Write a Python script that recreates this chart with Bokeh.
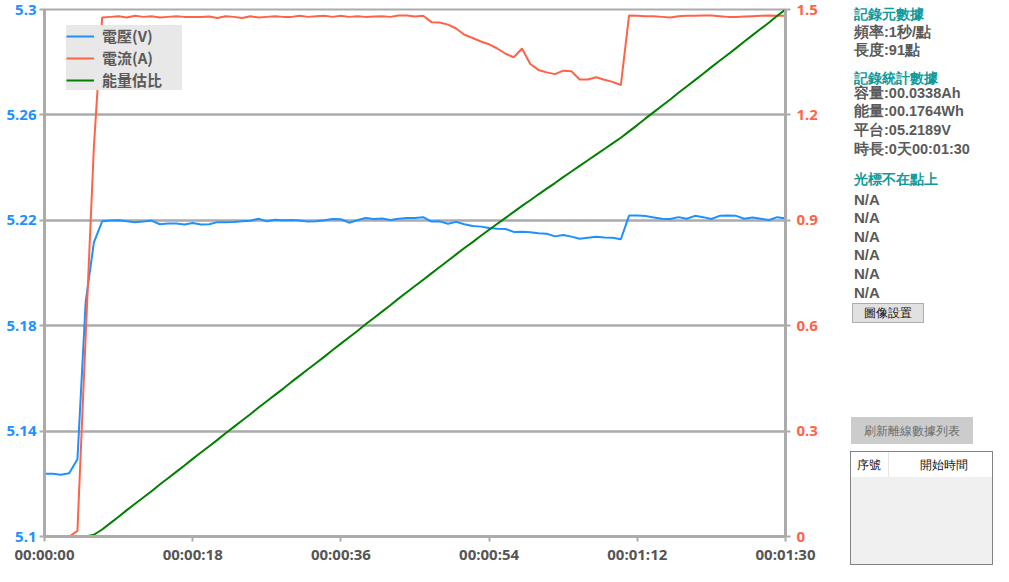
from bokeh.plotting import figure
from bokeh.models import Range1d, LinearAxis, FixedTicker, Legend, LegendItem, Div
from bokeh.layouts import row
from bokeh.embed import file_html
from bokeh.resources import INLINE

# ---------------- data ----------------
seconds = list(range(91))
voltage = [
    5.1238, 5.1238, 5.1234, 5.1240, 5.1293, 5.1890, 5.2116, 5.2196, 5.2199, 5.2200,
    5.2196, 5.2193, 5.2195, 5.2199, 5.2185, 5.2188, 5.2188, 5.2184, 5.2190, 5.2184,
    5.2185, 5.2193, 5.2193, 5.2194, 5.2196, 5.2198, 5.2206, 5.2196, 5.2202, 5.2200,
    5.2201, 5.2199, 5.2195, 5.2196, 5.2200, 5.2205, 5.2204, 5.2191, 5.2200, 5.2209,
    5.2205, 5.2207, 5.2201, 5.2206, 5.2209, 5.2209, 5.2212, 5.2195, 5.2196, 5.2187,
    5.2194, 5.2185, 5.2178, 5.2176, 5.2171, 5.2168, 5.2167, 5.2156, 5.2157, 5.2155,
    5.2151, 5.2149, 5.2139, 5.2144, 5.2138, 5.2130, 5.2134, 5.2138, 5.2135, 5.2134,
    5.2128, 5.2218, 5.2218, 5.2216, 5.2211, 5.2206, 5.2205, 5.2212, 5.2206, 5.2217,
    5.2212, 5.2205, 5.2217, 5.2218, 5.2217, 5.2206, 5.2211, 5.2206, 5.2201, 5.2212,
    5.2207,
]
current = [
    0, 0, 0, 0, 0.016, 0.57, 1.11, 1.477, 1.479, 1.481,
    1.477, 1.482, 1.479, 1.481, 1.477, 1.479, 1.481, 1.479, 1.479, 1.479,
    1.480, 1.476, 1.481, 1.479, 1.476, 1.481, 1.477, 1.479, 1.481, 1.479,
    1.479, 1.482, 1.479, 1.481, 1.482, 1.479, 1.482, 1.479, 1.481, 1.479,
    1.480, 1.481, 1.479, 1.483, 1.483, 1.480, 1.482, 1.464, 1.463, 1.457,
    1.446, 1.428, 1.419, 1.409, 1.401, 1.389, 1.374, 1.364, 1.389, 1.345,
    1.328, 1.321, 1.316, 1.326, 1.324, 1.301, 1.301, 1.307, 1.300, 1.294,
    1.285, 1.483, 1.482, 1.481, 1.481, 1.479, 1.477, 1.481, 1.482, 1.482,
    1.483, 1.483, 1.481, 1.479, 1.479, 1.480, 1.481, 1.482, 1.483, 1.482,
    1.482,
]
energy_ratio = [
    0, 0, 0, 0, 0, 0, 0.005, 0.020, 0.038, 0.056,
    0.075, 0.093, 0.111, 0.129, 0.148, 0.166, 0.184, 0.202, 0.221, 0.239,
    0.257, 0.275, 0.294, 0.312, 0.330, 0.348, 0.367, 0.385, 0.403, 0.421,
    0.440, 0.458, 0.476, 0.494, 0.512, 0.531, 0.549, 0.567, 0.585, 0.604,
    0.622, 0.640, 0.658, 0.677, 0.695, 0.713, 0.731, 0.749, 0.767, 0.785,
    0.803, 0.821, 0.838, 0.856, 0.873, 0.890, 0.907, 0.924, 0.941, 0.957,
    0.974, 0.990, 1.006, 1.023, 1.039, 1.055, 1.071, 1.087, 1.103, 1.119,
    1.135, 1.153, 1.171, 1.190, 1.208, 1.226, 1.244, 1.263, 1.281, 1.299,
    1.317, 1.336, 1.354, 1.372, 1.390, 1.409, 1.427, 1.445, 1.463, 1.482,
    1.500,
]
series_names = ["電壓(V)", "電流(A)", "能量估比"]
x_ticks = [0, 18, 36, 54, 72, 90]
x_tick_labels = ["00:00:00", "00:00:18", "00:00:36", "00:00:54", "00:01:12", "00:01:30"]
v_ticks = [5.1, 5.14, 5.18, 5.22, 5.26, 5.3]
v_tick_labels = ["5.1", "5.14", "5.18", "5.22", "5.26", "5.3"]
a_ticks = [0, 0.3, 0.6, 0.9, 1.2, 1.5]
a_tick_labels = ["0", "0.3", "0.6", "0.9", "1.2", "1.5"]

meta_title = "記錄元數據"
meta_lines = ["頻率:1秒/點", "長度:91點"]
stats_title = "記錄統計數據"
stats_lines = ["容量:00.0338Ah", "能量:00.1764Wh", "平台:05.2189V", "時長:0天00:01:30"]
cursor_title = "光標不在點上"
cursor_lines = ["N/A", "N/A", "N/A", "N/A", "N/A", "N/A"]
button_image = "圖像設置"
button_refresh = "刷新離線數據列表"
table_headers = ["序號", "開始時間"]

# ---------------- styles ----------------
BLUE = "#1E90FF"
RED = "#FF6347"
GREEN = "#008000"
GRID = "#ababab"
TEAL = "#109a9a"
GRAYTXT = "#5a5a5a"
CJK = "Noto Sans CJK TC"

W_MAIN, W_SIDE, H = 846, 147, 566

p = figure(width=W_MAIN, height=H, x_range=Range1d(0, 90), y_range=Range1d(5.1, 5.3),
           output_backend="svg", toolbar_location=None,
           min_border_left=44, min_border_right=61, min_border_top=9, min_border_bottom=20)
p.extra_y_ranges = {"cur": Range1d(0, 1.5)}
p.background_fill_color = "white"
p.border_fill_color = "white"
p.outline_line_color = GRID
p.outline_line_width = 2

p.xgrid.visible = False
p.ygrid.ticker = FixedTicker(ticks=v_ticks)
p.ygrid.grid_line_color = GRID
p.ygrid.grid_line_width = 2.5

right_axis = LinearAxis(y_range_name="cur")
p.add_layout(right_axis, "right")

xa = p.xaxis[0]
ya = p.yaxis[0]
xa.ticker = FixedTicker(ticks=x_ticks)
xa.major_label_overrides = {t: s for t, s in zip(x_ticks, x_tick_labels)}
ya.ticker = FixedTicker(ticks=v_ticks)
ya.major_label_overrides = {t: s for t, s in zip(v_ticks, v_tick_labels)}
right_axis.ticker = FixedTicker(ticks=a_ticks)
right_axis.major_label_overrides = {t: s for t, s in zip(a_ticks, a_tick_labels)}

for ax, col in [(xa, "#555555"), (ya, BLUE), (right_axis, RED)]:
    ax.axis_line_color = GRID
    ax.axis_line_width = 3
    ax.major_tick_line_color = GRID
    ax.major_tick_line_width = 2
    ax.major_tick_out = 5
    ax.major_tick_in = 0
    ax.minor_tick_line_color = None
    ax.major_label_text_font = "Open Sans"
    ax.major_label_text_font_style = "bold"
    ax.major_label_text_font_size = "15px"
    ax.major_label_text_color = col
    ax.major_label_standoff = 3
xa.major_label_standoff = 2
right_axis.major_label_standoff = 6

r_v = p.line(seconds, voltage, line_color=BLUE, line_width=2)
r_a = p.line(seconds, current, line_color=RED, line_width=2, y_range_name="cur")
r_e = p.line(seconds, energy_ratio, line_color=GREEN, line_width=2, y_range_name="cur")

legend = Legend(items=[LegendItem(label=series_names[0], renderers=[r_v]),
                       LegendItem(label=series_names[1], renderers=[r_a]),
                       LegendItem(label=series_names[2], renderers=[r_e])],
                location=(22, 446))
legend.background_fill_color = "#e8e8e8"
legend.background_fill_alpha = 1
legend.border_line_color = None
legend.padding = 16
legend.spacing = 1
legend.margin = 0
legend.glyph_width = 28
legend.glyph_height = 18
legend.label_height = 18
legend.label_width = 80
legend.label_standoff = 8
legend.label_text_font = CJK
legend.label_text_font_style = "bold"
legend.label_text_font_size = "15px"
legend.label_text_color = GRAYTXT
p.add_layout(legend)

# ---------------- side panel (inline SVG inside a Div) ----------------
def svg_text(text, x, yc, color, size, weight="bold", anchor="start"):
    return ('<text x="%s" y="%s" dominant-baseline="central" text-anchor="%s" fill="%s" '
            'font-family="%s" font-size="%s" font-weight="%s">%s</text>'
            % (x, yc, anchor, color, CJK, size, weight, text))

parts = []
parts.append(svg_text(meta_title, 8, 14, TEAL, "14px"))
for t, yc in zip(meta_lines, [32, 50]):
    parts.append(svg_text(t, 8, yc, GRAYTXT, "14.5px"))
parts.append(svg_text(stats_title, 8, 78, TEAL, "14px"))
for t, yc in zip(stats_lines, [93, 111, 130, 149]):
    parts.append(svg_text(t, 8, yc, GRAYTXT, "14.5px"))
parts.append(svg_text(cursor_title, 8, 179, TEAL, "14px"))
for t, yc in zip(cursor_lines, [199, 217, 236, 254, 273, 292]):
    parts.append(svg_text(t, 8, yc, GRAYTXT, "15px"))
# button: image settings
parts.append('<rect x="6.5" y="303.5" width="71" height="19" fill="#e1e1e1" stroke="#adadad" stroke-width="1"/>')
parts.append(svg_text(button_image, 42, 313, "#111111", "12px", weight="normal", anchor="middle"))
# button: refresh list
parts.append('<rect x="5" y="417" width="122" height="27" fill="#cccccc"/>')
parts.append(svg_text(button_refresh, 66, 430.5, "#6d6d6d", "12px", weight="normal", anchor="middle"))
# table
parts.append('<rect x="4.5" y="451.5" width="142" height="113" fill="#f0f0f0" stroke="#828282" stroke-width="1"/>')
parts.append('<rect x="5" y="452" width="141" height="25" fill="#ffffff"/>')
parts.append('<line x1="42.5" y1="452" x2="42.5" y2="477" stroke="#e5e5e5" stroke-width="1"/>')
parts.append(svg_text(table_headers[0], 11, 465, "#111111", "12px", weight="normal"))
parts.append(svg_text(table_headers[1], 98, 465, "#111111", "12px", weight="normal", anchor="middle"))

html = ('<svg xmlns="http://www.w3.org/2000/svg" width="%d" height="%d" style="display:block">%s</svg>'
        % (W_SIDE, H, "".join(parts)))
side = Div(text=html, width=W_SIDE, height=H, margin=0)

layout = row(p, side)
open("out.html", "w").write(file_html(layout, INLINE))
